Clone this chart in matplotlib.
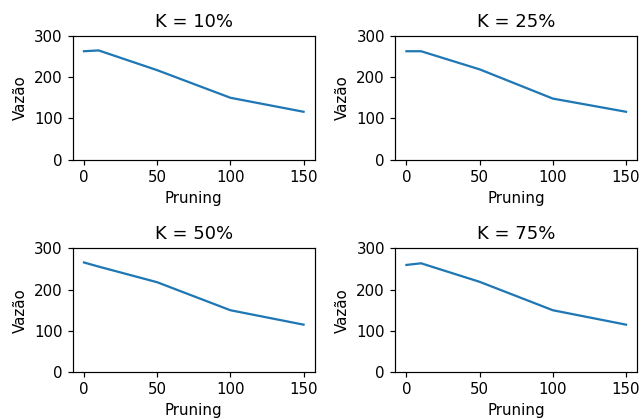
import matplotlib
matplotlib.use("Agg")
import matplotlib.pyplot as plt

# Pruning values on the x axis
pruning = [0, 10, 50, 100, 150]

# Vazão for each K
titles = ["K = 10%", "K = 25%", "K = 50%", "K = 75%"]
vazao_10 = [263, 265, 217, 150, 116]
vazao_25 = [263, 263, 219, 148, 116]
vazao_50 = [266, 256, 218, 150, 115]
vazao_75 = [260, 264, 219, 150, 115]
series = [vazao_10, vazao_25, vazao_50, vazao_75]

dpi = 108
fig, axes = plt.subplots(2, 2, figsize=(640 / dpi, 420 / dpi), dpi=dpi)
for ax, title, vals in zip(axes.flat, titles, series):
    ax.plot(pruning, vals)
    ax.set_title(title)
    ax.set_xlabel("Pruning")
    ax.set_ylabel("Vazão")
    ax.set_ylim(0, 300)
    ax.set_yticks([0, 100, 200, 300])

# the original is cut a bit on the right side
fig.subplots_adjust(left=73 / 640, right=637 / 640, top=1 - 36 / 420,
                    bottom=1 - 372 / 420, wspace=0.335, hspace=0.72)
fig.savefig("out.png", dpi=dpi)
